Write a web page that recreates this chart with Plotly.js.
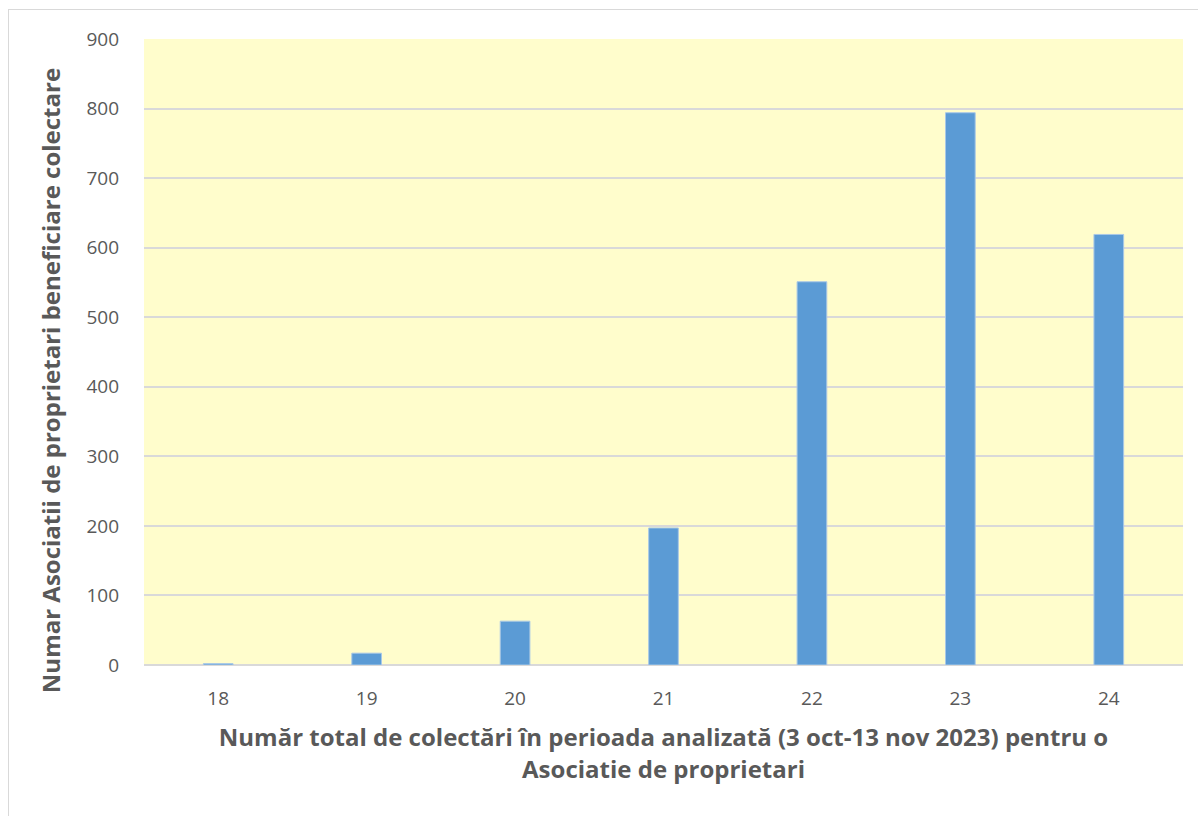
<!DOCTYPE html>
<html>
<head>
<meta charset="utf-8">
<script src="https://cdn.plot.ly/plotly-3.0.1.min.js"></script>
<style>
  html, body { margin: 0; padding: 0; background: #ffffff; overflow: hidden; }
  #frame { position: absolute; left: 8px; top: 9px; width: 1300px; height: 900px; border: 1px solid #D9D9D9; box-sizing: border-box; pointer-events: none; z-index: 5; }
  #chart { width: 1198px; height: 816px; }
</style>
</head>
<body>
<div id="frame"></div>
<div id="chart"></div>
<script>
const categories = ["18", "19", "20", "21", "22", "23", "24"];
const values = [2, 17, 63, 197, 551, 794, 619];
const yTicks = [0, 100, 200, 300, 400, 500, 600, 700, 800, 900];

const xTitle = "Număr total de colectări în perioada analizată (3 oct-13 nov 2023) pentru o<br>Asociatie de proprietari";
const yTitle = "Numar Asociatii de proprietari beneficiare colectare";

const fontFam = "Open Sans, Noto Sans, sans-serif";

const trace = {
  type: "bar",
  x: categories,
  y: values,
  marker: { color: "#5B9BD5", line: { color: "#A9C8E6", width: 1 } },
  hoverinfo: "x+y"
};

const layout = {
  width: 1198,
  height: 816,
  margin: { l: 144, r: 15, t: 39, b: 151 },
  paper_bgcolor: "#ffffff",
  plot_bgcolor: "#FFFDCC",
  bargap: 0.8,
  showlegend: false,
  font: { family: fontFam, color: "#595959", size: 19 },
  xaxis: {
    type: "category",
    tickfont: { size: 19, color: "#595959" },
    showgrid: false,
    ticks: "",
    showline: false,
    zeroline: false,
    ticklabelstandoff: 20,
    title: { text: xTitle, font: { size: 24, color: "#595959", family: fontFam, weight: "bold" }, standoff: 19 }
  },
  yaxis: {
    range: [0, 900],
    tickvals: yTicks,
    ticktext: yTicks.map(String),
    tickfont: { size: 19, color: "#595959" },
    showgrid: true,
    gridcolor: "#D9D9D9",
    gridwidth: 2,
    zeroline: true,
    zerolinecolor: "#D9D9D9",
    zerolinewidth: 2,
    ticks: "",
    ticklabelstandoff: 24,
    title: { text: "" }
  },
  annotations: [{
    text: yTitle,
    textangle: -90,
    xref: "paper", yref: "paper",
    x: -0.0905, y: 0.455,
    xanchor: "center", yanchor: "middle",
    showarrow: false,
    font: { size: 24, color: "#595959", family: fontFam, weight: "bold" }
  }]
};

Plotly.newPlot("chart", [trace], layout, { displayModeBar: false });
</script>
</body>
</html>
